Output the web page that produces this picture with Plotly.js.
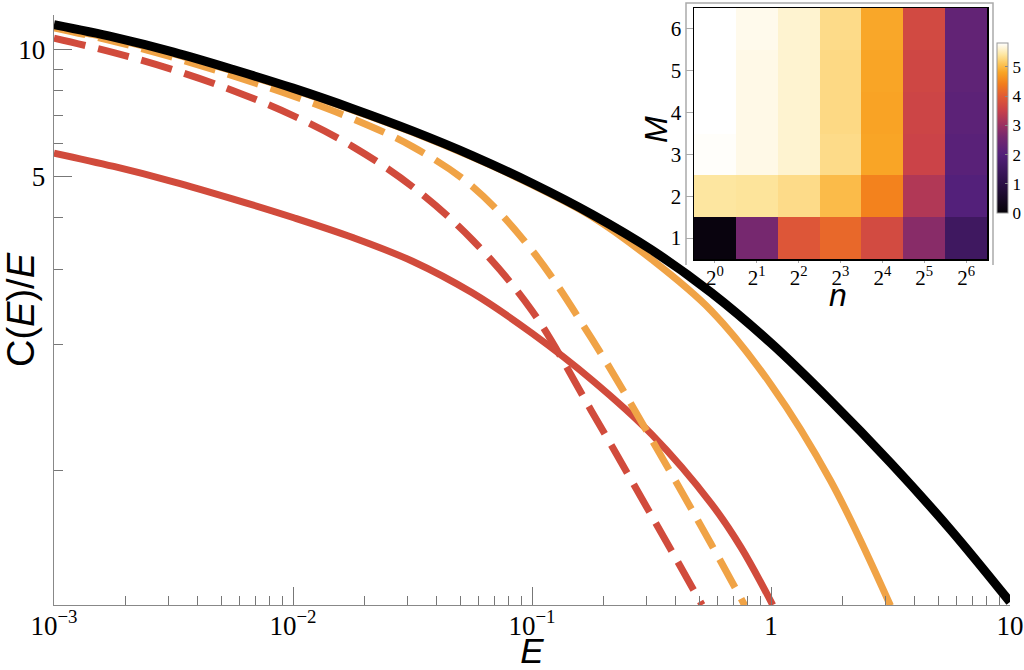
<!DOCTYPE html>
<html>
<head>
<meta charset="utf-8">
<script src="https://cdn.plot.ly/plotly-3.0.1.min.js"></script>
<style>html,body{margin:0;padding:0;background:#fff;}#chart{width:1024px;height:670px;}</style>
</head>
<body>
<div id="chart"></div>
<script>
// ---- main curves: C(E)/E versus E ----
const E_black = [0.001, 0.001778, 0.003162, 0.005623, 0.01, 0.01778, 0.03162, 0.05623, 0.1, 0.1778, 0.3162, 0.5623, 1, 1.778, 3.162, 5.623, 10];
const C_black = [11.47, 10.72, 9.88, 8.98, 8.11, 7.25, 6.42, 5.61, 4.82, 4.07, 3.35, 2.65, 2.01, 1.466, 1.045, 0.726, 0.488];

const E_orangeSolid = [0.001, 0.001778, 0.003162, 0.005623, 0.01, 0.01778, 0.03162, 0.05623, 0.1, 0.1778, 0.3162, 0.5623, 1, 1.778, 3.162];
const C_orangeSolid = [11.34, 10.62, 9.78, 8.90, 8.04, 7.19, 6.37, 5.56, 4.78, 4.02, 3.18, 2.40, 1.602, 0.946, 0.478];

const E_orangeDashed = [0.001, 0.001778, 0.003162, 0.005623, 0.01, 0.01778, 0.03162, 0.05623, 0.1, 0.1778, 0.3162, 0.5623, 0.778];
const C_orangeDashed = [11.28, 10.48, 9.59, 8.67, 7.77, 6.86, 5.89, 4.74, 3.34, 2.06, 1.189, 0.669, 0.478];

const E_redDashed = [0.001, 0.001778, 0.003162, 0.005623, 0.01, 0.01778, 0.03162, 0.05623, 0.1, 0.1778, 0.3162, 0.515];
const C_redDashed = [10.66, 9.85, 8.96, 8.00, 6.98, 5.89, 4.73, 3.54, 2.40, 1.384, 0.783, 0.480];

const E_redSolid = [0.001, 0.001778, 0.003162, 0.005623, 0.01, 0.01778, 0.03162, 0.05623, 0.1, 0.1778, 0.3162, 0.5623, 0.75, 1.017];
const C_redSolid = [5.685, 5.284, 4.860, 4.422, 3.998, 3.583, 3.147, 2.647, 2.122, 1.645, 1.222, 0.836, 0.657, 0.480];

// ---- axis ticks ----
const xTickVals = [0.001, 0.01, 0.1, 1, 10];
const xTickText = ['10<sup>\u22123</sup>', '10<sup>\u22122</sup>', '10<sup>\u22121</sup>', '1', '10'];
const yTickVals = [5, 10];
const yTickText = ['5', '10'];
const yMinorVals = [1, 2, 3, 4, 6, 7, 8, 9];
const xMinorVals = [];
[0.001, 0.01, 0.1, 1].forEach(d => { for (let k = 2; k <= 9; k++) xMinorVals.push(d * k); });

// ---- inset heatmap ----
const nLabels = ['2<sup>0</sup>', '2<sup>1</sup>', '2<sup>2</sup>', '2<sup>3</sup>', '2<sup>4</sup>', '2<sup>5</sup>', '2<sup>6</sup>'];
const nIndex = [0, 1, 2, 3, 4, 5, 6];
const M_values = [1, 2, 3, 4, 5, 6];
const Z_M1 = [0.1, 2.6, 3.9, 4.15, 3.7, 2.8, 1.5];
const Z_M2 = [5.4, 5.38, 5.3, 5.0, 4.45, 3.25, 2.0];
const Z_M3 = [5.78, 5.7, 5.6, 5.3, 4.8, 3.55, 2.1];
const Z_M4 = [5.8, 5.7, 5.6, 5.28, 4.78, 3.58, 2.15];
const Z_M5 = [5.8, 5.7, 5.6, 5.28, 4.8, 3.62, 2.2];
const Z_M6 = [5.8, 5.72, 5.6, 5.3, 4.82, 3.68, 2.25];
const zMax = 5.8;
const colorbarTicks = [0, 1, 2, 3, 4, 5];

const colorscale = [
  [0.0, '#050208'], [0.172, '#2a1045'], [0.345, '#53207a'], [0.448, '#76286f'],
  [0.517, '#9a3062'], [0.603, '#c8404a'], [0.69, '#e25c33'], [0.759, '#f27d1c'],
  [0.828, '#f9a526'], [0.879, '#fcc65a'], [0.931, '#fde6a0'], [1.0, '#ffffff']
];

const RED = '#d14b3c', ORANGE = '#f0a346';
const DASH = '32px,13px';

function curve(x, y, color, width, dash) {
  return { x: x, y: y, type: 'scatter', mode: 'lines', xaxis: 'x', yaxis: 'y',
    line: { color: color, width: width, dash: dash || 'solid', shape: 'spline', smoothing: 1 },
    hoverinfo: 'skip', showlegend: false };
}

const SERIF = 'Liberation Serif, Times New Roman, serif';
const SANS = 'Liberation Sans, Arial, sans-serif';

const traces = [
  curve(E_redSolid, C_redSolid, RED, 7),
  curve(E_redDashed, C_redDashed, RED, 7, DASH),
  curve(E_orangeDashed, C_orangeDashed, ORANGE, 7, DASH),
  curve(E_orangeSolid, C_orangeSolid, ORANGE, 7),
  curve(E_black, C_black, '#000000', 9),
  {
    type: 'heatmap', x: nIndex, y: M_values,
    z: [Z_M1, Z_M2, Z_M3, Z_M4, Z_M5, Z_M6],
    zmin: 0, zmax: zMax, colorscale: colorscale,
    xaxis: 'x2', yaxis: 'y2', hoverinfo: 'skip',
    colorbar: {
      x: 0.9864, xanchor: 'left', xpad: 0, y: 0.7985, yanchor: 'middle', ypad: 0,
      len: 0.2848, lenmode: 'fraction', thickness: 11,
      outlinecolor: '#999', outlinewidth: 1,
      tickvals: colorbarTicks, ticks: 'inside', ticklen: 3, tickcolor: '#888',
      tickfont: { family: SERIF, size: 17, color: '#000' }
    }
  }
];

const paperTop = 8, paperBottom = 605, H = paperBottom - paperTop;
const xL = 54, xR = 1010, W = xR - xL;
const px = v => (v - xL) / W;
const py = v => (paperBottom - v) / H;

const layout = {
  width: 1024, height: 670,
  margin: { l: xL, r: 1024 - xR, t: paperTop, b: 670 - paperBottom, pad: 0, autoexpand: false },
  paper_bgcolor: '#fff', plot_bgcolor: 'rgba(0,0,0,0)',
  showlegend: false,
  xaxis: {
    type: 'log', range: [-3, 1], domain: [0, 1], anchor: 'y',
    showline: true, linecolor: '#888', linewidth: 1.3, showgrid: false, zeroline: false,
    tickmode: 'array', tickvals: xTickVals, ticktext: xTickText,
    ticks: 'inside', ticklen: 18, tickwidth: 1, tickcolor: '#777', ticklabelstandoff: -4,
    tickfont: { family: SERIF, size: 27, color: '#000' },
    minor: { tickmode: 'array', tickvals: xMinorVals, ticks: 'inside', ticklen: 9, tickcolor: '#777', tickwidth: 1, showgrid: false },
    title: { text: '<i>E</i>', font: { family: SANS, size: 35, color: '#000' }, standoff: 7 }
  },
  yaxis: {
    type: 'log', range: [Math.log10(0.48), Math.log10(12.1)], domain: [0, py(15)], anchor: 'x',
    showline: true, linecolor: '#888', linewidth: 1.3, showgrid: false, zeroline: false,
    tickmode: 'array', tickvals: yTickVals, ticktext: yTickText,
    ticks: 'inside', ticklen: 18, tickwidth: 1, tickcolor: '#777', ticklabelstandoff: 2,
    tickfont: { family: SERIF, size: 27, color: '#000' },
    minor: { tickmode: 'array', tickvals: yMinorVals, ticks: 'inside', ticklen: 9, tickcolor: '#777', tickwidth: 1, showgrid: false },
    title: { text: 'C(<i>E</i>)/<i>E</i>', font: { family: SANS, size: 38, color: '#000' }, standoff: 0 }
  },
  xaxis2: {
    domain: [px(694), px(987)], anchor: 'y2', range: [-0.5, 6.5],
    tickmode: 'array', tickvals: nIndex, ticktext: nLabels,
    showline: true, mirror: true, linecolor: '#000', linewidth: 1.5,
    ticks: 'outside', ticklen: 2, tickcolor: '#aaa', ticklabelstandoff: -3, showgrid: false, zeroline: false,
    tickfont: { family: SERIF, size: 21, color: '#000' }
  },
  yaxis2: {
    domain: [py(259), 1], anchor: 'x2', range: [0.5, 6.5],
    tickmode: 'array', tickvals: M_values,
    showline: true, mirror: true, linecolor: '#000', linewidth: 1.5,
    ticks: 'outside', ticklen: 7, tickcolor: '#aaa', showgrid: false, zeroline: false,
    tickfont: { family: SERIF, size: 21, color: '#000' }
  },
  annotations: [
    { text: '<i>n</i>', xref: 'paper', yref: 'paper', x: px(838), y: py(295), xanchor: 'center', yanchor: 'middle',
      showarrow: false, font: { family: SANS, size: 32, color: '#000' } },
    { text: '<i>M</i>', xref: 'paper', yref: 'paper', x: px(656), y: py(130), xanchor: 'center', yanchor: 'middle',
      textangle: -90, showarrow: false, font: { family: SANS, size: 32, color: '#000' } }
  ],
  shapes: [
    { type: 'path', xref: 'paper', yref: 'paper',
      path: `M ${px(686)} ${py(265)} L ${px(686)} ${py(3)} L ${px(993)} ${py(3)} L ${px(993)} ${py(265)}`,
      line: { color: '#aaa', width: 1.5 } }
  ]
};

Plotly.newPlot('chart', traces, layout, { staticPlot: true, displayModeBar: false });
</script>
</body>
</html>
